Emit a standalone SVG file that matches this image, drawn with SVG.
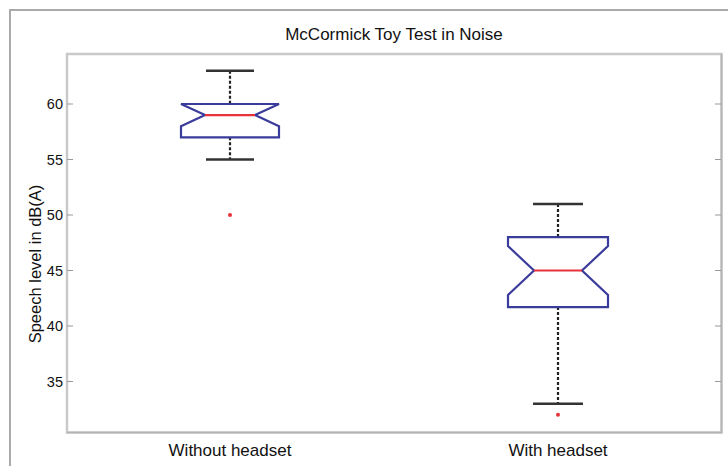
<svg xmlns="http://www.w3.org/2000/svg" width="728" height="466" viewBox="0 0 728 466">
<style>
.t{font-family:"Liberation Sans",Arial,sans-serif;fill:#111}
.tick{stroke:#9a9a9a;stroke-width:1.2}
.box{fill:none;stroke:#3a3c9c;stroke-width:2.2;stroke-linejoin:miter}
.med{stroke:#e8323c;stroke-width:2.2}
.wh{stroke:#222;stroke-width:2.2;stroke-dasharray:3 2}
.cap{stroke:#333;stroke-width:2.5}
.out{fill:#e8323c}
</style>
<rect width="728" height="466" fill="#fff"/>
<path d="M10,466 V10 H728" fill="none" stroke="#aaa" stroke-width="2"/>
<g id="axes">
<rect x="67" y="54" width="654.5" height="378.5" fill="none" stroke="#c9c9c9" stroke-width="2.5"/>
<path d="M67,432.5 H721.5 V54" fill="none" stroke="#b3b3b3" stroke-width="1.5"/>
<g class="tick">
<path d="M67,104 h6 M67,159.5 h6 M67,215 h6 M67,270.5 h6 M67,326 h6 M67,381.5 h6"/>
<path d="M721,104 h-6 M721,159.5 h-6 M721,215 h-6 M721,270.5 h-6 M721,326 h-6 M721,381.5 h-6"/>
</g>
<g class="t" font-size="14.5" text-anchor="end">
<text x="63" y="109">60</text>
<text x="63" y="164.5">55</text>
<text x="63" y="220">50</text>
<text x="63" y="275.5">45</text>
<text x="63" y="331">40</text>
<text x="63" y="386.5">35</text>
</g>
<text class="t" font-size="17" text-anchor="middle" x="394" y="40">McCormick Toy Test in Noise</text>
<text class="t" font-size="16.5" text-anchor="middle" transform="translate(41,264) rotate(-90)">Speech level in dB(A)</text>
<text class="t" font-size="17" text-anchor="middle" x="230" y="456">Without headset</text>
<text class="t" font-size="17" text-anchor="middle" x="558" y="456">With headset</text>
</g>
<g id="box-without-headset">
<line class="wh" x1="230" y1="70.7" x2="230" y2="104"/>
<line class="wh" x1="230" y1="137.3" x2="230" y2="159.5"/>
<line class="cap" x1="206" y1="70.7" x2="254" y2="70.7"/>
<line class="cap" x1="206" y1="159.5" x2="254" y2="159.5"/>
<path class="box" d="M181,104 L205,115.1 L181,126.2 V137.3 H279 V126.2 L255,115.1 L279,104 Z"/>
<line class="med" x1="205" y1="115.1" x2="255" y2="115.1"/>
<circle class="out" cx="230" cy="215" r="2"/>
</g>
<g id="box-with-headset">
<line class="wh" x1="558" y1="203.9" x2="558" y2="237.2"/>
<line class="wh" x1="558" y1="307.1" x2="558" y2="403.7"/>
<line class="cap" x1="533" y1="203.9" x2="583" y2="203.9"/>
<line class="cap" x1="533" y1="403.7" x2="583" y2="403.7"/>
<path class="box" d="M508,237.2 H608 V246.1 L582,270.5 L608,294.9 V307.1 H508 V294.9 L534,270.5 L508,246.1 Z"/>
<line class="med" x1="534" y1="270.5" x2="582" y2="270.5"/>
<circle class="out" cx="558" cy="414.8" r="2"/>
</g>
</svg>
